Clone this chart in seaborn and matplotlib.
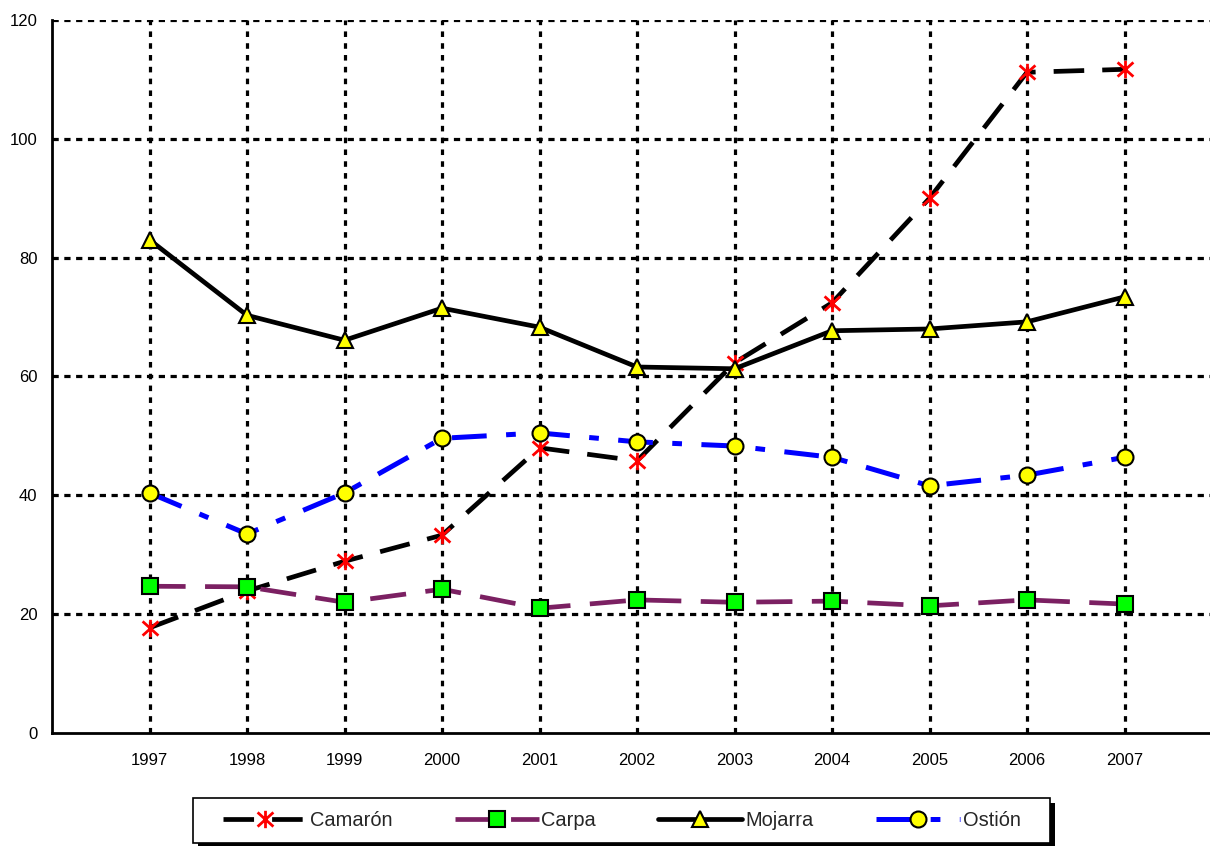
import matplotlib
matplotlib.use("Agg")
import matplotlib.pyplot as plt
from matplotlib.path import Path
from matplotlib.patches import Rectangle
import seaborn as sns

years = [1997, 1998, 1999, 2000, 2001, 2002, 2003, 2004, 2005, 2006, 2007]
camaron = [17.7, 23.9, 28.9, 33.3, 48.0, 45.8, 62.3, 72.4, 90.0, 111.2, 111.7]
carpa = [24.7, 24.6, 22.0, 24.2, 21.0, 22.4, 22.0, 22.2, 21.4, 22.4, 21.7]
mojarra = [83.0, 70.3, 66.1, 71.5, 68.3, 61.6, 61.3, 67.7, 68.0, 69.2, 73.4]
ostion = [40.4, 33.5, 40.4, 49.6, 50.5, 49.0, 48.3, 46.4, 41.6, 43.4, 46.4]
y_ticks = [0, 20, 40, 60, 80, 100, 120]

W, H = 1210, 846


def main():
    sns.set_style("white")
    plt.rcParams["font.family"] = ["Liberation Sans", "DejaVu Sans"]
    plt.rcParams["lines.scale_dashes"] = False

    fig = plt.figure(figsize=(W / 100, H / 100), dpi=100)
    ax = fig.add_axes([52 / W, 113 / H, 1170 / W, 713 / H])

    # star marker like Excel: an X with a vertical bar
    star = Path([(-1, -0.9), (1, 0.9), (-1, 0.9), (1, -0.9), (0, -1.1), (0, 1.1)],
                [Path.MOVETO, Path.LINETO, Path.MOVETO, Path.LINETO, Path.MOVETO, Path.LINETO])

    series = [
        ("Camarón", camaron, dict(color="black", linestyle=(0, (22, 13)), lw=3.4,
                                  marker=star, ms=12.5, mec="red", mfc="red", mew=2.0)),
        ("Carpa", carpa, dict(color="#7b2062", linestyle=(0, (26, 14)), lw=3.4,
                              marker="s", ms=11, mec="black", mfc="#00ff00", mew=1.5)),
        ("Mojarra", mojarra, dict(color="black", linestyle="-", lw=3.4,
                                  marker="^", ms=11.5, mec="black", mfc="#ffff00", mew=1.5)),
        ("Ostión", ostion, dict(color="#0000ff", linestyle=(0, (25, 14, 7, 14)), lw=3.6,
                                marker="o", ms=11.5, mec="black", mfc="#ffff00", mew=1.5)),
    ]
    for name, vals, style in series:
        sns.lineplot(x=years, y=vals, ax=ax, label=name, **style)

    ax.set_xlim(1996, 2008)
    ax.set_ylim(0, 120)
    ax.set_xticks([1996] + years)
    ax.set_xticklabels([""] + [str(y) for y in years])
    ax.set_yticks(y_ticks)

    # dashed grid
    for y in y_ticks[1:]:
        ax.axhline(y, color="black", lw=2.3, linestyle=(0, (4.5, 4.0)), zorder=0.5)
    for x in years:
        ax.axvline(x, color="black", lw=2.3, linestyle=(0, (4.0, 4.5)), zorder=0.5)

    sns.despine(ax=ax, top=True, right=True)
    for s in ["left", "bottom"]:
        ax.spines[s].set_color("black")
        ax.spines[s].set_linewidth(2.0)
    ax.tick_params(axis="both", direction="out", length=4.5, width=1.2, color="black",
                   labelsize=12, labelcolor="black")
    ax.tick_params(axis="y", pad=6)
    ax.tick_params(axis="x", pad=10)
    ax.set_xlabel("")
    ax.set_ylabel("")

    # legend box with black shadow, drawn in pixels
    fig.patches.append(Rectangle((198, 0), 857, 43, transform=None, facecolor="black",
                                 edgecolor="none", zorder=1))
    fig.patches.append(Rectangle((193, 3), 857, 45, transform=None, facecolor="white",
                                 edgecolor="black", lw=1.2, zorder=2))

    handles, labels = ax.get_legend_handles_labels()
    ax.get_legend().remove()
    leg = fig.legend(handles, labels, loc="center left", bbox_to_anchor=(223 / W, 1 - 820 / H),
                     ncol=4, fontsize=14.4, frameon=False, handlelength=4.2,
                     columnspacing=3.1, borderpad=0, borderaxespad=0, handletextpad=0.15)
    leg.set_zorder(3)

    fig.savefig("out.png", dpi=100)


if __name__ == "__main__":
    main()
